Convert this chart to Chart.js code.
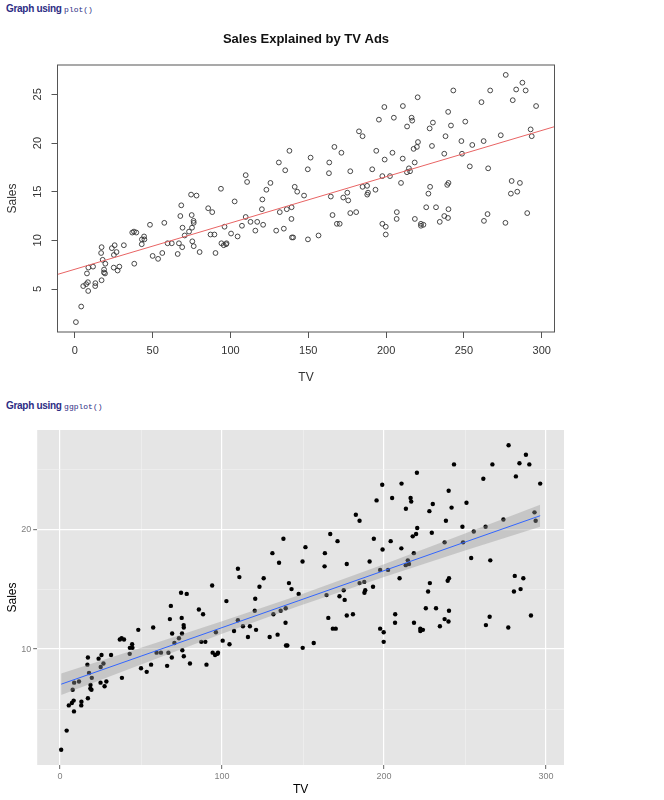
<!DOCTYPE html>
<html>
<head>
<meta charset="utf-8">
<script src="https://cdn.jsdelivr.net/npm/chart.js@4.4.1/dist/chart.umd.min.js"></script>
<style>
  body { margin: 0; background: #fff; width: 664px; height: 800px; position: relative; overflow: hidden;
         font-family: "Liberation Sans", Arial, sans-serif; }
  .hd { position: absolute; left: 6px; color: #2d2d84; font-weight: bold; font-size: 10px; letter-spacing: -0.3px; }
  .hd code { font-family: "Liberation Mono", monospace; font-weight: normal; font-size: 8px; letter-spacing: 0; }
  canvas { position: absolute; left: 0; }
</style>
</head>
<body>
<div class="hd" style="top:3px">Graph using <code>plot()</code></div>
<canvas id="rPlot" width="664" height="370" style="top:25px"></canvas>
<div class="hd" style="top:400px">Graph using <code>ggplot()</code></div>
<canvas id="ggPlot" width="664" height="380" style="top:420px"></canvas>
<script>
// Advertising data: TV budget vs Sales
const tv = [
  230.1, 44.5, 17.2, 151.5, 180.8, 8.7, 57.5, 120.2, 8.6, 199.8,
  66.1, 214.7, 23.8, 97.5, 204.1, 195.4, 67.8, 281.4, 69.2, 147.3,
  218.4, 237.4, 13.2, 228.3, 62.3, 262.9, 142.9, 240.1, 248.8, 70.6,
  292.9, 112.9, 97.2, 265.6, 95.7, 290.7, 266.9, 74.7, 43.1, 228,
  202.5, 177, 293.6, 206.9, 25.1, 175.1, 89.7, 239.9, 227.2, 66.9,
  199.8, 100.4, 216.4, 182.6, 262.7, 198.9, 7.3, 136.2, 210.8, 210.7,
  53.5, 261.3, 239.3, 102.7, 131.1, 69, 31.5, 139.3, 237.4, 216.8,
  199.1, 109.8, 26.8, 129.4, 213.4, 16.9, 27.5, 120.5, 5.4, 116,
  76.4, 239.8, 75.3, 68.4, 213.5, 193.2, 76.3, 110.7, 88.3, 109.8,
  134.3, 28.6, 217.7, 250.9, 107.4, 163.3, 197.6, 184.9, 289.7, 135.2,
  222.4, 296.4, 280.2, 187.9, 238.2, 137.9, 25, 90.4, 13.1, 255.4,
  225.8, 241.7, 175.7, 209.6, 78.2, 75.1, 139.2, 76.4, 125.7, 19.4,
  141.3, 18.8, 224, 123.1, 229.5, 87.2, 7.8, 80.2, 220.3, 59.6,
  0.7, 265.2, 8.4, 219.8, 36.9, 48.3, 25.6, 273.7, 43, 184.9,
  73.4, 193.7, 220.5, 104.6, 96.2, 140.3, 240.1, 243.2, 38, 44.7,
  280.7, 121, 197.6, 171.3, 187.8, 4.1, 93.9, 149.8, 11.7, 131.7,
  172.5, 85.7, 188.4, 163.5, 117.2, 234.5, 17.9, 206.8, 215.4, 284.3,
  50, 164.5, 19.6, 168.4, 222.4, 276.9, 248.4, 170.2, 276.7, 165.6,
  156.6, 218.5, 56.2, 287.6, 253.8, 205, 139.5, 191.1, 286, 18.7,
  39.5, 75.5, 17.2, 166.8, 149.7, 38.2, 94.2, 177, 283.6, 232.1
];
const sales = [
  22.1, 10.4, 9.3, 18.5, 12.9, 7.2, 11.8, 13.2, 4.8, 10.6,
  8.6, 17.4, 9.2, 9.7, 19, 22.4, 12.5, 24.4, 11.3, 14.6,
  18, 12.5, 5.6, 15.5, 9.7, 12, 15, 15.9, 18.9, 10.5,
  21.4, 11.9, 9.6, 17.4, 9.5, 12.8, 25.4, 14.7, 10.1, 21.5,
  16.6, 17.1, 20.7, 12.9, 8.5, 14.9, 10.6, 23.2, 14.8, 9.7,
  11.4, 10.7, 22.6, 21.2, 20.2, 23.7, 5.5, 13.2, 23.8, 18.4,
  8.1, 24.2, 15.7, 14, 18, 9.3, 9.5, 13.4, 18.9, 22.3,
  18.3, 12.4, 8.8, 11, 17, 8.7, 6.9, 14.2, 5.3, 11,
  11.8, 12.3, 11.3, 13.6, 21.7, 15.2, 12, 16, 12.9, 16.7,
  11.2, 7.3, 19.4, 22.2, 11.5, 16.9, 11.7, 15.5, 25.4, 17.2,
  11.7, 23.8, 14.8, 14.7, 20.7, 19.2, 7.2, 8.7, 5.3, 19.8,
  13.4, 21.8, 14.1, 15.9, 14.6, 12.6, 12.2, 9.4, 15.9, 6.6,
  15.5, 7, 11.6, 15.2, 19.7, 10.6, 6.6, 8.8, 24.7, 9.7,
  1.6, 12.7, 5.7, 19.6, 10.8, 11.6, 9.5, 20.8, 9.6, 20.7,
  10.9, 19.2, 20.1, 10.4, 11.4, 10.3, 13.2, 25.4, 10.9, 10.1,
  16.1, 11.6, 16.6, 19, 15.6, 3.2, 15.3, 10.1, 7.3, 12.9,
  14.4, 13.3, 14.9, 18, 11.9, 11.9, 8, 12.2, 17.1, 15,
  8.4, 14.5, 7.6, 11.7, 11.5, 27, 20.2, 11.7, 11.8, 12.6,
  10.5, 12.2, 8.7, 26.2, 17.6, 22.6, 10.3, 17.3, 15.9, 6.7,
  10.8, 9.9, 5.9, 19.6, 17.3, 7.6, 9.7, 12.8, 25.5, 13.4
];

// fitted line (abline) end points for the plot() version
const rFitTV = [-11.1, 308.2];
const rFitSales = [6.50, 21.68];
// lm smooth with its confidence band for the ggplot() version
const bandTV = [0.7, 50, 100, 147, 200, 250, 296.4];
const bandFit = [7.07, 9.41, 11.79, 14.02, 16.54, 18.92, 21.12];
const bandLow = [6.16, 8.72, 11.27, 13.57, 16.00, 18.21, 20.21];
const bandHigh = [7.97, 10.10, 12.31, 14.47, 17.08, 19.63, 22.03];

const rTicksX = [0, 50, 100, 150, 200, 250, 300];
const rTicksY = [5, 10, 15, 20, 25];
const ggTicksX = [0, 50, 100, 150, 200, 250, 300];
const ggMajorX = [0, 100, 200, 300];
const ggTicksY = [5, 10, 15, 20, 25];
const ggMajorY = [10, 20];

const rTitle = 'Sales Explained by TV Ads';
const FONT = '"Liberation Sans", Arial, sans-serif';

const pts = (xs, ys) => xs.map((x, i) => ({ x: x, y: ys[i] }));

// ---------- base R style plot ----------
const rFrame = {
  id: 'rFrame',
  afterDraw(chart) {
    const { ctx, chartArea: a, scales } = chart;
    ctx.save();
    ctx.strokeStyle = '#555';
    ctx.lineWidth = 1;
    ctx.strokeRect(a.left, a.top, a.right - a.left, a.bottom - a.top);
    ctx.fillStyle = '#111';
    ctx.font = 'bold 13px ' + FONT;
    ctx.textAlign = 'center';
    ctx.textBaseline = 'middle';
    ctx.fillText(rTitle, (a.left + a.right) / 2, 14.5);
    // R draws y tick labels parallel to the axis
    ctx.fillStyle = '#333';
    ctx.font = '11px ' + FONT;
    rTicksY.forEach(v => {
      ctx.save();
      ctx.translate(38, scales.y.getPixelForValue(v));
      ctx.rotate(-Math.PI / 2);
      ctx.fillText(String(v), 0, 0);
      ctx.restore();
    });
    ctx.restore();
  }
};

new Chart(document.getElementById('rPlot'), {
  type: 'scatter',
  data: {
    datasets: [
      {
        type: 'line',
        data: pts(rFitTV, rFitSales),
        borderColor: '#e86464',
        borderWidth: 1,
        pointRadius: 0,
        tension: 0
      },
      {
        data: pts(tv, sales),
        pointStyle: 'circle',
        pointRadius: 2.4,
        pointBorderWidth: 0.9,
        pointBorderColor: '#333',
        pointBackgroundColor: 'rgba(0,0,0,0)'
      }
    ]
  },
  options: {
    responsive: false,
    animation: false,
    events: [],
    layout: { padding: { top: 40, right: 109.5, left: 0, bottom: 0 } },
    plugins: { legend: { display: false }, tooltip: { enabled: false } },
    scales: {
      x: {
        type: 'linear',
        min: -11.13,
        max: 308.23,
        afterBuildTicks: s => { s.ticks = rTicksX.map(v => ({ value: v })); },
        afterFit: s => { s.height = 63; },
        grid: { drawOnChartArea: false, drawTicks: true, tickLength: 6, color: '#555' },
        border: { display: false },
        ticks: { color: '#333', font: { size: 11, family: FONT }, padding: 6, maxRotation: 0, autoSkip: false },
        title: { display: true, text: 'TV', color: '#333', font: { size: 12, family: FONT }, padding: { top: 0, bottom: 10 } }
      },
      y: {
        type: 'linear',
        min: 0.584,
        max: 28.016,
        afterBuildTicks: s => { s.ticks = rTicksY.map(v => ({ value: v })); },
        afterFit: s => { s.width = 57.5; },
        grid: { drawOnChartArea: false, drawTicks: true, tickLength: 6, color: '#555' },
        border: { display: false },
        ticks: { display: false },
        title: { display: true, text: 'Sales', color: '#333', font: { size: 12, family: FONT }, padding: { top: 5, bottom: 0 } }
      }
    }
  },
  plugins: [rFrame]
});

// ---------- ggplot style plot ----------
const ggPanel = {
  id: 'ggPanel',
  beforeDraw(chart) {
    const { ctx, chartArea: a } = chart;
    ctx.save();
    ctx.fillStyle = '#e5e5e5';
    ctx.fillRect(a.left, a.top, a.right - a.left, a.bottom - a.top);
    ctx.restore();
  }
};

const isMajor = (list) => (c) => c.tick && list.includes(c.tick.value);

new Chart(document.getElementById('ggPlot'), {
  type: 'scatter',
  data: {
    datasets: [
      {
        type: 'line',
        data: pts(bandTV, bandFit),
        borderColor: '#3366ff',
        borderWidth: 1,
        pointRadius: 0,
        tension: 0
      },
      {
        type: 'line',
        data: pts(bandTV, bandLow),
        borderWidth: 0,
        borderColor: 'rgba(0,0,0,0)',
        pointRadius: 0,
        fill: false,
        tension: 0
      },
      {
        type: 'line',
        data: pts(bandTV, bandHigh),
        borderWidth: 0,
        borderColor: 'rgba(0,0,0,0)',
        backgroundColor: 'rgba(153,153,153,0.4)',
        pointRadius: 0,
        fill: '-1',
        tension: 0
      },
      {
        data: pts(tv, sales),
        pointStyle: 'circle',
        pointRadius: 2.2,
        pointBorderWidth: 0,
        pointBackgroundColor: '#000'
      }
    ]
  },
  options: {
    responsive: false,
    animation: false,
    events: [],
    layout: { padding: { top: 10, right: 100, left: 0, bottom: 0 } },
    plugins: { legend: { display: false }, tooltip: { enabled: false } },
    scales: {
      x: {
        type: 'linear',
        min: -14.1,
        max: 311.1,
        afterBuildTicks: s => { s.ticks = ggTicksX.map(v => ({ value: v })); },
        afterFit: s => { s.height = 35; },
        grid: {
          color: c => isMajor(ggMajorX)(c) ? '#ffffff' : '#f2f2f2',
          lineWidth: c => isMajor(ggMajorX)(c) ? 1.2 : 0.6,
          tickColor: c => isMajor(ggMajorX)(c) ? '#7f7f7f' : 'rgba(0,0,0,0)',
          tickLength: 4
        },
        border: { display: false },
        ticks: {
          color: '#7f7f7f', font: { size: 9, family: FONT }, padding: 2, maxRotation: 0, autoSkip: false,
          callback: v => ggMajorX.includes(v) ? String(v) : ''
        },
        title: { display: true, text: 'TV', color: '#000', font: { size: 12, family: FONT }, padding: { top: 0, bottom: 3 } }
      },
      y: {
        type: 'linear',
        min: 0.33,
        max: 28.27,
        afterBuildTicks: s => { s.ticks = ggTicksY.map(v => ({ value: v })); },
        afterFit: s => { s.width = 37.2; },
        grid: {
          color: c => isMajor(ggMajorY)(c) ? '#ffffff' : '#f2f2f2',
          lineWidth: c => isMajor(ggMajorY)(c) ? 1.2 : 0.6,
          tickColor: c => isMajor(ggMajorY)(c) ? '#7f7f7f' : 'rgba(0,0,0,0)',
          tickLength: 4
        },
        border: { display: false },
        ticks: {
          color: '#7f7f7f', font: { size: 9, family: FONT }, padding: 2, autoSkip: false,
          callback: v => ggMajorY.includes(v) ? String(v) : ''
        },
        title: { display: true, text: 'Sales', color: '#000', font: { size: 12, family: FONT }, padding: { top: 5, bottom: 0 } }
      }
    }
  },
  plugins: [ggPanel]
});
</script>
</body>
</html>
